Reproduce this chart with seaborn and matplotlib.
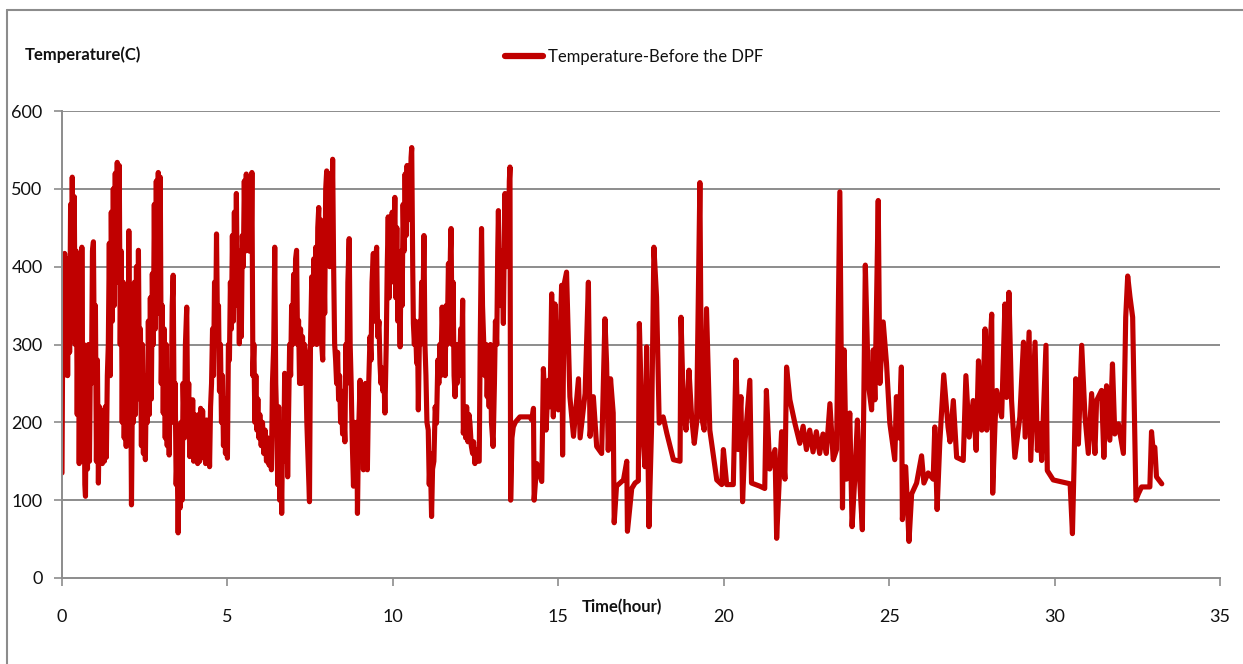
import matplotlib
matplotlib.use("Agg")
import matplotlib.pyplot as plt
import seaborn as sns
import pandas as pd
from matplotlib.lines import Line2D

# (hour, temperature) along the trace, segment by segment
hours_a = [0.00, 0.02, 0.05, 0.08, 0.11, 0.14, 0.17, 0.20, 0.23, 0.26, 0.29, 0.31, 0.34, 0.37, 0.40,
           0.43, 0.46, 0.49, 0.52, 0.55, 0.58, 0.60, 0.63, 0.66, 0.69, 0.71, 0.74, 0.77, 0.80, 0.83,
           0.86, 0.89, 0.92, 0.95, 0.98, 1.01, 1.04, 1.07, 1.10, 1.13, 1.16, 1.19, 1.22, 1.25, 1.28,
           1.31, 1.34, 1.37, 1.40, 1.43, 1.46, 1.49, 1.52, 1.55, 1.58, 1.61, 1.64, 1.67, 1.70, 1.73,
           1.76, 1.79, 1.82, 1.85, 1.88, 1.91, 1.94, 1.97, 2.00, 2.02, 2.05, 2.07, 2.10, 2.13, 2.16,
           2.19, 2.22, 2.25, 2.28, 2.31, 2.34, 2.37, 2.40, 2.43, 2.46, 2.49, 2.52, 2.55, 2.58, 2.61,
           2.64, 2.67, 2.70, 2.73, 2.76, 2.79, 2.82, 2.85, 2.88, 2.91, 2.94, 2.97, 3.00, 3.03, 3.06,
           3.09, 3.12, 3.15, 3.18, 3.21, 3.24, 3.27, 3.30, 3.33, 3.36, 3.39, 3.42, 3.45, 3.48, 3.51,
           3.54, 3.57, 3.60, 3.63, 3.66, 3.70, 3.73, 3.77, 3.80, 3.83, 3.86, 3.89, 3.92, 3.95, 3.98,
           4.01, 4.04, 4.07, 4.10, 4.13, 4.16, 4.19, 4.22, 4.25, 4.28, 4.31, 4.34, 4.37, 4.40, 4.43,
           4.46, 4.49, 4.52, 4.55, 4.58, 4.61, 4.64, 4.67, 4.70, 4.73, 4.76, 4.79, 4.82, 4.85, 4.88,
           4.91, 4.94, 4.97, 5.00, 5.03, 5.06, 5.09, 5.12, 5.15, 5.18, 5.21, 5.24, 5.27, 5.30, 5.33,
           5.36, 5.39, 5.42, 5.45, 5.48, 5.51, 5.54, 5.57, 5.60, 5.63, 5.66, 5.69, 5.72, 5.74, 5.77,
           5.80, 5.83, 5.86, 5.89, 5.92, 5.95, 5.98, 6.02, 6.06, 6.10, 6.14, 6.18, 6.22, 6.26, 6.30,
           6.33, 6.36, 6.40, 6.43, 6.46, 6.49, 6.52, 6.55, 6.58, 6.61, 6.64, 6.67, 6.70, 6.73, 6.76,
           6.79, 6.82, 6.85, 6.88, 6.91, 6.94, 6.97, 7.00, 7.03, 7.06, 7.09]
temps_a = [135, 300, 260, 417, 270, 410, 260, 400, 290, 480, 330, 515, 310, 490, 300,
           420, 210, 380, 147, 300, 160, 425, 150, 300, 120, 105, 280, 140, 300, 150,
           290, 250, 420, 432, 260, 350, 150, 280, 122, 220, 150, 215, 147, 215, 150,
           220, 155, 260, 300, 430, 260, 470, 330, 500, 350, 520, 380, 534, 400, 530,
           300, 420, 200, 380, 180, 300, 169, 350, 220, 446, 200, 300, 94, 250, 200,
           380, 210, 400, 230, 421, 250, 320, 170, 300, 160, 250, 152, 260, 200, 330,
           210, 360, 230, 391, 300, 480, 320, 510, 340, 521, 360, 515, 250, 350, 212,
           320, 180, 300, 170, 260, 158, 250, 200, 350, 389, 200, 250, 120, 160, 58,
           150, 90, 200, 100, 250, 180, 300, 348, 200, 250, 156, 220, 160, 229, 150,
           210, 165, 200, 147, 210, 150, 218, 155, 215, 160, 200, 147, 203, 155, 200,
           143, 220, 250, 320, 260, 380, 300, 442, 320, 350, 240, 300, 200, 260, 170,
           230, 160, 200, 154, 300, 280, 380, 320, 440, 330, 470, 350, 494, 360, 420,
           301, 400, 310, 440, 400, 510, 420, 519, 430, 500, 420, 515, 430, 521, 260,
           300, 200, 260, 190, 230, 180, 210, 170, 200, 160, 190, 150, 180, 145, 170,
           139, 250, 300, 425, 250, 200, 120, 220, 100, 180, 83, 200, 150, 263, 160,
           250, 130, 220, 300, 260, 350, 300, 390, 310, 410, 421]

hours_b = [7.12, 7.15, 7.18, 7.21, 7.24, 7.27, 7.30, 7.33, 7.36, 7.40, 7.44, 7.48, 7.51, 7.55, 7.58,
           7.61, 7.64, 7.67, 7.70, 7.73, 7.76, 7.79, 7.82, 7.85, 7.88, 7.91, 7.94, 7.97, 8.00, 8.03,
           8.06, 8.09, 8.12, 8.15, 8.18, 8.21, 8.24, 8.27, 8.30, 8.33, 8.36, 8.39, 8.42, 8.45, 8.48,
           8.51, 8.55, 8.58, 8.61, 8.64, 8.68, 8.71, 8.74, 8.77, 8.81, 8.84, 8.88, 8.91, 8.93, 8.96,
           9.01, 9.04, 9.08, 9.11, 9.14, 9.17, 9.20, 9.23, 9.27, 9.31, 9.34, 9.37, 9.41, 9.44, 9.48,
           9.51, 9.54, 9.58, 9.61, 9.64, 9.67, 9.70, 9.73, 9.76, 9.80, 9.83, 9.86, 9.89, 9.92, 9.95,
           9.98, 10.02, 10.06, 10.09, 10.12, 10.15, 10.18, 10.22, 10.25, 10.28, 10.31, 10.34, 10.37,
           10.40, 10.43, 10.46, 10.49, 10.52, 10.55, 10.57, 10.60, 10.62, 10.65, 10.68, 10.72, 10.75,
           10.77, 10.81, 10.84, 10.87, 10.91, 10.94, 10.97, 11.00, 11.03, 11.07, 11.10, 11.13, 11.17,
           11.20, 11.24, 11.28, 11.32, 11.36, 11.39, 11.42, 11.45, 11.49, 11.52, 11.55, 11.58, 11.61,
           11.64, 11.68, 11.71, 11.74, 11.76, 11.79, 11.82, 11.85, 11.88, 11.91, 11.94, 11.98, 12.01,
           12.05, 12.08, 12.11, 12.13, 12.17, 12.20, 12.23, 12.27, 12.30, 12.33, 12.37, 12.41, 12.44,
           12.48, 12.52, 12.56, 12.61, 12.64, 12.68, 12.71, 12.75, 12.78, 12.82, 12.85, 12.88, 12.91,
           12.95, 12.98, 13.03, 13.07, 13.10, 13.14, 13.17, 13.19, 13.22, 13.26, 13.30, 13.34, 13.37,
           13.39, 13.42, 13.46, 13.49, 13.52, 13.54, 13.56, 13.60, 13.64, 13.70, 13.84, 14.14]
temps_b = [300, 331, 250, 320, 250, 310, 260, 300, 290, 200, 150, 98, 300, 387, 300,
           410, 330, 425, 300, 450, 476, 330, 460, 300, 280, 420, 340, 500, 523, 420,
           510, 400, 520, 430, 538, 400, 301, 280, 250, 290, 229, 260, 200, 240, 185,
           220, 175, 300, 250, 380, 436, 300, 250, 180, 118, 200, 150, 200, 83, 180,
           254, 160, 240, 139, 220, 250, 150, 139, 250, 310, 280, 380, 417, 330, 410,
           425, 310, 330, 276, 250, 270, 240, 260, 212, 300, 400, 464, 360, 440, 380,
           470, 400, 489, 360, 450, 330, 400, 297, 420, 350, 480, 420, 519,
           440, 530, 460, 520, 470, 540, 553, 400, 327, 300, 330, 276, 300,
           216, 330, 300, 380, 350, 440, 300, 260, 200, 190, 120, 160, 79,
           140, 150, 220, 199, 280, 250, 300, 260, 348, 300, 340, 260, 350,
           300, 404, 330, 420, 449, 300, 380, 260, 233, 300, 250, 300, 260,
           320, 280, 357, 186, 220, 180, 220, 175, 210, 199, 170, 160, 175,
           147, 165, 150, 150, 300, 449, 350, 300, 260, 300, 233, 280, 220,
           300, 200, 169, 250, 330, 300, 420, 472, 380, 350, 420, 327, 440,
           494, 400, 480, 400, 510, 528, 100, 180, 194, 200, 207, 207]

hours_c = [14.20, 14.25, 14.27, 14.35, 14.50, 14.55, 14.63, 14.70, 14.75, 14.80, 14.85, 14.90, 15.00,
           15.10, 15.13, 15.18, 15.25, 15.35, 15.46, 15.61, 15.66, 15.81, 15.91, 15.96, 16.06, 16.16,
           16.31, 16.41, 16.46, 16.51, 16.58, 16.66, 16.69, 16.76, 16.97, 17.07, 17.09, 17.22, 17.32,
           17.42, 17.45, 17.52, 17.62, 17.67, 17.74, 17.82, 17.89, 17.97, 18.05, 18.17, 18.28, 18.48,
           18.68, 18.71, 18.78, 18.86, 18.95, 19.03, 19.11, 19.18, 19.28, 19.33, 19.41, 19.48, 19.58,
           19.79, 19.94, 19.99, 20.09, 20.29]
temps_c = [203, 218, 100, 147, 124, 269, 190, 254, 220, 365, 207, 352, 216,
           376, 158, 378, 393, 233, 182, 256, 180, 237, 380, 182, 233, 169,
           160, 333, 276, 164, 256, 212, 71, 118, 126, 150, 60, 115, 122,
           125, 327, 212, 143, 297, 66, 194, 425, 361, 199, 207, 186, 152,
           150, 335, 220, 190, 267, 207, 173, 199, 508, 207, 190, 346, 190,
           126, 120, 165, 120, 120]

hours_d = [20.37, 20.44, 20.52, 20.57, 20.64, 20.79, 20.84, 21.09, 21.24, 21.29, 21.39, 21.55, 21.60,
           21.68, 21.75, 21.85, 21.90, 22.00, 22.15, 22.30, 22.40, 22.50, 22.60, 22.70, 22.80, 22.90,
           23.00, 23.10, 23.21, 23.31, 23.41, 23.51, 23.59, 23.64, 23.71, 23.81, 23.88, 23.96, 24.04,
           24.11, 24.19, 24.28, 24.37, 24.47, 24.52, 24.57, 24.67, 24.72, 24.82, 24.92, 25.02, 25.17,
           25.22, 25.29, 25.37, 25.40, 25.50, 25.60, 25.68, 25.83, 25.98, 26.05, 26.18, 26.33, 26.38,
           26.45, 26.53, 26.65, 26.78]
temps_d = [280, 165, 233, 98, 173, 254, 122, 118, 115, 241, 140, 165, 51,
           127, 188, 127, 271, 229, 199, 173, 195, 165, 190, 162, 188, 160,
           185, 160, 224, 152, 165, 496, 90, 293, 127, 212, 66, 127, 203,
           127, 62, 402, 250, 216, 293, 229, 485, 250, 329, 276, 199, 152,
           233, 180, 271, 75, 143, 47, 108, 122, 157, 122, 135, 127, 194,
           88, 173, 261, 194]

hours_e = [26.84, 26.94, 27.04, 27.24, 27.32, 27.42, 27.54, 27.63, 27.70, 27.80, 27.90, 27.95, 28.03,
           28.10, 28.13, 28.20, 28.25, 28.40, 28.50, 28.55, 28.62, 28.70, 28.80, 28.95, 29.06, 29.11,
           29.23, 29.28, 29.41, 29.48, 29.56, 29.61, 29.74, 29.78, 29.96, 30.47, 30.54, 30.59, 30.64,
           30.72, 30.82, 30.92, 31.02, 31.12, 31.22, 31.27, 31.42, 31.49, 31.57, 31.67, 31.75, 31.82,
           31.93, 32.08, 32.15, 32.21, 32.28, 32.36, 32.41, 32.46, 32.53, 32.63, 32.88, 32.93, 32.98,
           33.03, 33.08, 33.24]
temps_e = [175, 228, 155, 151, 260, 181, 228, 164, 279, 190, 320, 190, 279,
           339, 109, 198, 241, 207, 352, 232, 367, 228, 155, 207, 303, 181,
           316, 151, 303, 164, 198, 151, 299, 138, 126, 121, 57, 147, 256,
           172, 299, 207, 160, 237, 160, 228, 241, 155, 247, 177, 275, 185,
           198, 160, 335, 388, 361, 335, 215, 100, 108, 117, 117, 188, 164,
           168, 130, 121]

hours = hours_a + hours_b + hours_c + hours_d + hours_e
temps = temps_a + temps_b + temps_c + temps_d + temps_e
df = pd.DataFrame({"Time": hours, "Temperature": temps})

x_ticks = [0, 5, 10, 15, 20, 25, 30, 35]
y_ticks = [0, 100, 200, 300, 400, 500, 600]
series_name = "Temperature-Before the DPF"

sns.set_style("white")
plt.rcParams['font.family'] = ['Lato', 'DejaVu Sans']

W, H = 1243, 664
fig = plt.figure(figsize=(W / 100, H / 100), dpi=100)
ax = fig.add_axes([62 / W, 1 - 578 / H, (1220 - 62) / W, (578 - 111) / H])

red = "#c00000"
sns.lineplot(data=df, x="Time", y="Temperature", ax=ax, color=red, linewidth=3.7,
             estimator=None, sort=False, legend=False)

ax.set_xlim(0, 35)
ax.set_ylim(0, 600)
ax.set_xticks(x_ticks)
ax.set_yticks(y_ticks)
ax.set_xticklabels([str(t) for t in x_ticks])
ax.set_yticklabels([str(t) for t in y_ticks])
ax.set_xlabel("")
ax.set_ylabel("")

grid_c = "#8c8c8c"
for y in y_ticks[1:]:
    ax.axhline(y, color=grid_c, linewidth=1.4, zorder=0)
for s in ["top", "right"]:
    ax.spines[s].set_visible(False)
for s in ["left", "bottom"]:
    ax.spines[s].set_color(grid_c)
    ax.spines[s].set_linewidth(1.4)
ax.tick_params(axis="both", direction="out", length=6, width=1.2, color=grid_c,
               labelsize=13, labelcolor="#111111")
ax.tick_params(axis="x", bottom=True, pad=16)
ax.tick_params(axis="y", left=True, pad=8)

fig.text(25 / W, 1 - 55 / H, "Temperature(C)", fontsize=12, fontweight="bold",
         color="#111111", va="center", ha="left")
fig.text(622 / W, 1 - 607 / H, "Time(hour)", fontsize=12, fontweight="bold",
         color="#111111", va="center", ha="center")

handle = Line2D([], [], color=red, linewidth=4.5)
fig.legend([handle], [series_name], loc="center left", frameon=False,
           bbox_to_anchor=(490 / W, 1 - 57 / H), fontsize=12, handlelength=2.3,
           handletextpad=0.25, labelcolor="#111111")

# outer chart frame (top and left edges visible)
fig.add_artist(Line2D([7 / W, 1], [1 - 10 / H, 1 - 10 / H], color="#8c8c8c", linewidth=1.5))
fig.add_artist(Line2D([7 / W, 7 / W], [0, 1 - 10 / H], color="#8c8c8c", linewidth=1.5))

fig.savefig("out.png", dpi=100)
